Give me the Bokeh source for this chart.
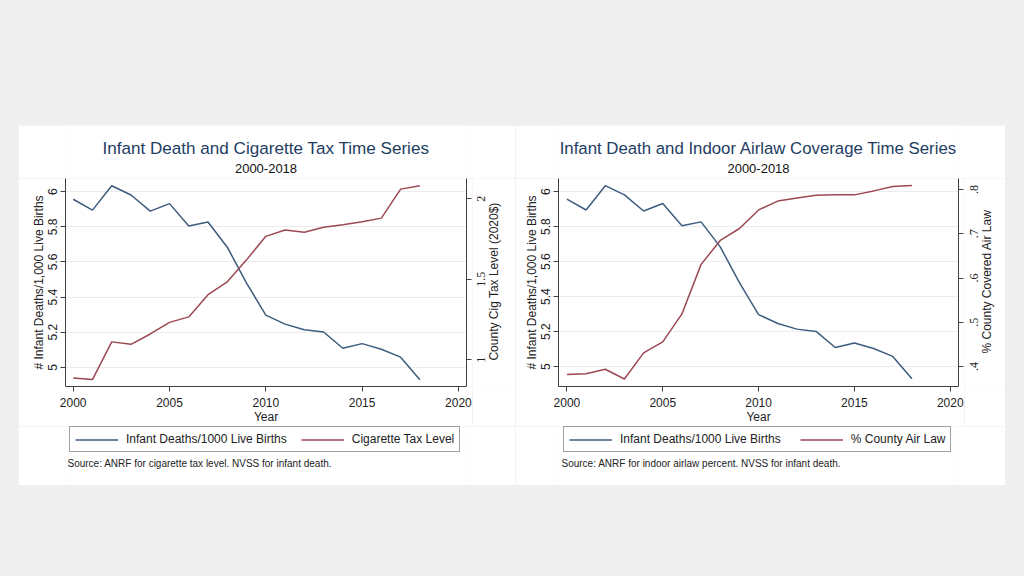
import math
from bokeh.plotting import figure
from bokeh.models import (Range1d, LinearAxis, FixedTicker, Label, LabelSet, Legend,
                          LegendItem, Spacer, GlobalInlineStyleSheet, ColumnDataSource)
from bokeh.layouts import row, column
from bokeh.embed import file_html
from bokeh.resources import INLINE

# ---------------- data ----------------
years = list(range(2000, 2019))
infant_deaths = [5.957, 5.895, 6.034, 5.981, 5.889, 5.932, 5.805, 5.827, 5.684, 5.48,
                 5.297, 5.246, 5.214, 5.201, 5.109, 5.135, 5.103, 5.058, 4.930]
cig_tax = [0.887, 0.877, 1.111, 1.096, 1.160, 1.232, 1.266, 1.404, 1.484, 1.62,
           1.766, 1.805, 1.791, 1.822, 1.838, 1.857, 1.879, 2.059, 2.080]
air_law = [0.382, 0.384, 0.394, 0.372, 0.431, 0.456, 0.519, 0.631, 0.685, 0.712,
           0.754, 0.774, 0.781, 0.787, 0.788, 0.788, 0.797, 0.807, 0.809]

x_ticks = [2000, 2005, 2010, 2015, 2020]
left_ticks = [5.0, 5.2, 5.4, 5.6, 5.8, 6.0]
left_tick_labels = ["5", "5.2", "5.4", "5.6", "5.8", "6"]
tax_ticks = [1.0, 1.5, 2.0]
tax_tick_labels = ["1", "1.5", "2"]
air_ticks = [0.4, 0.5, 0.6, 0.7, 0.8]
air_tick_labels = [".4", ".5", ".6", ".7", ".8"]

FONT = "Liberation Sans"
BLUE = "#3d5c7e"
RED = "#9b4853"
AXIS = "#404040"
TXT = "#222222"
TITLE_H, MAIN_H, FOOT_H, BOTTOM_AX = 53, 248, 59, 38


def style_axis(ax, size="12px"):
    ax.axis_line_color = AXIS
    ax.major_tick_line_color = AXIS
    ax.minor_tick_line_color = None
    ax.major_tick_out = 5
    ax.major_tick_in = 0
    ax.major_label_text_font = FONT
    ax.major_label_text_font_size = size
    ax.major_label_text_color = TXT
    ax.axis_label_text_font = FONT
    ax.axis_label_text_font_size = size
    ax.axis_label_text_font_style = "normal"
    ax.axis_label_text_color = TXT


def blank_fig(width, height, mb_left=0, mb_right=0, mb_bottom=0, yr=None):
    fw = width - mb_left - mb_right
    f = figure(width=width, height=height, output_backend="svg", toolbar_location=None,
               x_range=Range1d(0, fw),
               y_range=Range1d(*(yr if yr else (0, height - mb_bottom))),
               x_axis_location=None, y_axis_location=None,
               min_border_left=mb_left, min_border_right=mb_right,
               min_border_top=0, min_border_bottom=mb_bottom,
               background_fill_color="white", border_fill_color="white")
    f.outline_line_color = None
    f.grid.grid_line_color = None
    return f


def make_chart(width, mb_left, frame_w, xr, yr, yr2, right_ticks, right_labels,
               right_name, title, title_size, source, series2, legend2, leg_spacing,
               leg_x, src_x, tick_lab_x, ax_lab_x):
    mb_right = width - mb_left - frame_w
    main_w = mb_left + frame_w + 6

    # ---- title strip ----
    t = blank_fig(width, TITLE_H, mb_left, mb_right)
    t.add_layout(Label(x=frame_w / 2, y=TITLE_H - 23, text=title, text_align="center",
                       text_baseline="middle", text_font=FONT, text_font_size=title_size,
                       text_color="#1e3d63"))
    t.add_layout(Label(x=frame_w / 2, y=TITLE_H - 43, text="2000-2018", text_align="center",
                       text_baseline="middle", text_font=FONT, text_font_size="13px",
                       text_color="#111111"))

    # ---- main plot ----
    p = figure(width=main_w, height=MAIN_H, output_backend="svg", toolbar_location=None,
               x_range=Range1d(*xr), y_range=Range1d(*yr),
               min_border_left=mb_left, min_border_right=6,
               min_border_top=0, min_border_bottom=BOTTOM_AX,
               background_fill_color="white", border_fill_color="white")
    p.outline_line_color = None
    p.extra_y_ranges = {"r": Range1d(*yr2)}

    xa = p.xaxis[0]
    style_axis(xa)
    xa.ticker = FixedTicker(ticks=x_ticks)
    xa.axis_label = "Year"
    xa.major_label_standoff = 6
    xa.axis_label_standoff = 0

    ya = p.yaxis[0]
    style_axis(ya)
    ya.ticker = FixedTicker(ticks=left_ticks)
    ya.major_label_overrides = dict(zip(left_ticks, left_tick_labels))
    ya.major_label_orientation = "vertical"
    ya.axis_label = "# Infant Deaths/1,000 Live Births"
    ya.major_label_standoff = 3
    ya.axis_label_standoff = 0

    ra = LinearAxis(y_range_name="r")
    style_axis(ra)
    ra.ticker = FixedTicker(ticks=right_ticks)
    ra.major_label_text_font_size = "0px"
    ra.major_label_text_alpha = 0
    ra.major_label_standoff = 0
    p.add_layout(ra, "right")

    p.xgrid.grid_line_color = None
    p.ygrid.grid_line_color = "#ececec"
    p.ygrid.ticker = FixedTicker(ticks=left_ticks)

    p.line(years, infant_deaths, line_color=BLUE, line_width=1.5)
    p.line(years, series2, line_color=RED, line_width=1.5, y_range_name="r")

    # ---- right-axis labels (read bottom to top) ----
    lab_w = width - main_w
    rl = blank_fig(lab_w, MAIN_H, 0, 0, BOTTOM_AX, yr=yr2)
    src = ColumnDataSource(dict(x=[tick_lab_x] * len(right_ticks), y=right_ticks,
                                t=right_labels))
    rl.add_layout(LabelSet(x="x", y="y", text="t", source=src, angle=math.pi / 2,
                           text_align="center", text_baseline="middle", text_font=FONT,
                           text_font_size="12px", text_color=TXT))
    rl.add_layout(Label(x=ax_lab_x, y=(MAIN_H - BOTTOM_AX) / 2, y_units="screen",
                        text=right_name, angle=math.pi / 2, text_align="center",
                        text_baseline="middle", text_font=FONT, text_font_size="12px",
                        text_color=TXT))

    # ---- footer: legend + source ----
    f = blank_fig(width, FOOT_H, mb_left, mb_right)
    k1 = f.line(years, infant_deaths, line_color=BLUE, line_width=1.5)
    k2 = f.line(years, series2, line_color=RED, line_width=1.5)
    legend = Legend(items=[LegendItem(label="Infant Deaths/1000 Live Births", renderers=[k1]),
                           LegendItem(label=legend2, renderers=[k2])],
                    orientation="horizontal", location=(leg_x, FOOT_H - 26), margin=0,
                    padding=5, spacing=leg_spacing, glyph_width=43, glyph_height=13,
                    label_standoff=8, label_text_font=FONT, label_text_font_size="12px",
                    label_text_color=TXT, border_line_color="#444444",
                    border_line_width=1, background_fill_color="white",
                    background_fill_alpha=1.0)
    f.add_layout(legend, "center")
    f.add_layout(Label(x=src_x, y=FOOT_H - 37, text=source, text_align="left",
                       text_baseline="middle", text_font=FONT, text_font_size="10px",
                       text_color=TXT))
    return column(t, row(p, rl, spacing=0), f, spacing=0)


c1 = make_chart(497, 47, 401, (1999.6, 2020.42), (4.891, 6.075), (0.834, 2.125),
                tax_ticks, tax_tick_labels, "County Cig Tax Level (2020$)",
                "Infant Death and Cigarette Tax Time Series", "17.1px",
                "Source: ANRF for cigarette tax level. NVSS for infant death.",
                cig_tax, "Cigarette Tax Level", 14, 4, 2, 8.7, 21.7)
c2 = make_chart(490, 43, 400, (1999.56, 2020.43), (4.886, 6.075), (0.355, 0.825),
                air_ticks, air_tick_labels, "% County Covered Air Law",
                "Infant Death and Indoor Airlaw Coverage Time Series", "16.8px",
                "Source: ANRF for indoor airlaw percent. NVSS for infant death.",
                air_law, "% County Air Law", 19, 5, 3, 10, 22.7)

body_css = GlobalInlineStyleSheet(css="body { background-color: #efefef; }")
mid = row(Spacer(width=18, height=360), c1, c2, Spacer(width=19, height=360), spacing=0)
root = column(Spacer(width=1024, height=125), mid, Spacer(width=1024, height=91),
              spacing=0, styles={"background-color": "#efefef"}, stylesheets=[body_css])

open("out.html", "w").write(file_html(root, INLINE))
